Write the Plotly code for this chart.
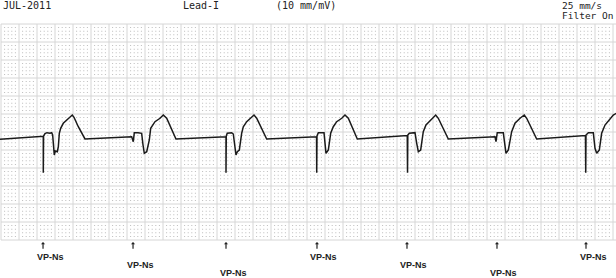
import plotly.graph_objects as go

# ---- ECG trace (time in s, amplitude in mV) ----
ecg_t = [-0.011, 0.470, 0.470, 0.473, 0.489, 0.511, 0.544, 0.563, 0.574, 0.581, 0.589, 0.592, 0.603, 0.626,
         0.637, 0.648, 0.663, 0.692, 0.730, 0.774, 0.792, 0.811, 0.859, 0.933,
         1.452, 1.470, 1.481, 1.522, 1.563, 1.578, 1.592, 1.619, 1.648, 1.663, 1.711, 1.767, 1.803, 1.841, 1.944,
         2.500, 2.500, 2.503, 2.514, 2.563, 2.581, 2.600, 2.611, 2.626, 2.648, 2.674, 2.692, 2.730, 2.767, 2.811,
         2.841, 2.952,
         3.506, 3.508, 3.511, 3.526, 3.589, 3.611, 3.637, 3.663, 3.692, 3.730, 3.786, 3.822, 3.859, 3.959,
         4.514, 4.517, 4.520, 4.537, 4.600, 4.619, 4.637, 4.663, 4.692, 4.722, 4.767, 4.803, 4.830, 4.859, 4.970,
         5.489, 5.500, 5.514, 5.581, 5.611, 5.637, 5.674, 5.711, 5.767, 5.814, 5.841, 5.952,
         6.494, 6.497, 6.500, 6.526, 6.581, 6.600, 6.619, 6.648, 6.674, 6.711, 6.748, 6.803, 6.844]
ecg_mv = [-0.203, -0.119, -1.131, -0.111, -0.047, -0.019, -0.036, -0.019, -0.083, -0.222, -0.547, -0.639, -0.528, -0.547,
          -0.408, -0.036, 0.103, 0.242, 0.333, 0.425, 0.472, 0.408, 0.147, -0.194,
          -0.131, -0.269, -0.019, -0.019, -0.036, -0.361, -0.592, -0.547, -0.222, 0.103, 0.286, 0.381, 0.472, 0.381, -0.194,
          -0.131, -1.131, -0.111, -0.036, -0.019, -0.056, -0.408, -0.639, -0.547, -0.500, -0.036, 0.147, 0.286, 0.381, 0.472,
          0.381, -0.194,
          -0.131, -1.131, -0.111, -0.019, -0.019, -0.592, -0.500, -0.036, 0.147, 0.286, 0.381, 0.472, 0.381, -0.194,
          -0.097, -1.131, -0.083, -0.036, -0.019, -0.314, -0.547, -0.500, 0.008, 0.194, 0.314, 0.408, 0.472, 0.381, -0.194,
          -0.131, -0.269, -0.019, -0.019, -0.592, -0.500, 0.008, 0.242, 0.381, 0.472, 0.381, -0.194,
          -0.097, -1.131, -0.083, -0.019, -0.019, -0.453, -0.592, -0.500, -0.036, 0.194, 0.314, 0.472, 0.528]

# ---- pacing markers ----
pace_t = [0.467, 1.467, 2.500, 3.511, 4.511, 5.511, 6.500]
pace_label = ["VP-Ns"] * 7
pace_row = [0, 1, 2, 0, 1, 2, 0]

# ---- header texts ----
header_texts = ["JUL-2011", "Lead-I", "(10 mm/mV)", "25 mm/s", "Filter On"]
header_px = [4, 184, 277, 563, 563]
header_py = [5, 5, 5, 5, 16]
header_size = [10, 10, 10, 9.5, 9.5]

# ---- paper grid definition ----
T_MIN, T_MAX = -1 / 90, 615 / 90          # x range (s)
V_MIN, V_MAX = -146 / 36, 132 / 36        # y range (mV)
GRID_T_END = 6.8
GRID_V = (-3.0, 3.0)

fig = go.Figure()

# dots at minor (1 mm) intersections
dot_x, dot_y = [], []
n_t = int(round(GRID_T_END / 0.04))
n_v = int(round((GRID_V[1] - GRID_V[0]) / 0.1))
for i in range(n_t + 1):
    if i % 5 == 0:
        continue
    for j in range(n_v + 1):
        if j % 5 == 0:
            continue
        dot_x.append(i * 0.04)
        dot_y.append(GRID_V[0] + j * 0.1)
fig.add_trace(go.Scatter(x=dot_x, y=dot_y, mode="markers",
                         marker=dict(symbol="square", size=1, color="#bdbdbd", line=dict(width=0)),
                         hoverinfo="skip"))

# major (5 mm) grid lines
gx, gy = [], []
for i in range(int(round(GRID_T_END / 0.2)) + 1):
    gx += [i * 0.2, i * 0.2, None]
    gy += [GRID_V[0], GRID_V[1], None]
for j in range(int(round((GRID_V[1] - GRID_V[0]) / 0.5)) + 1):
    gx += [0, T_MAX, None]
    gy += [GRID_V[0] + j * 0.5, GRID_V[0] + j * 0.5, None]
fig.add_trace(go.Scatter(x=gx, y=gy, mode="lines", line=dict(color="#d6d6d6", width=1),
                         hoverinfo="skip"))

# ECG trace
fig.add_trace(go.Scatter(x=ecg_t, y=ecg_mv, mode="lines",
                         line=dict(color="#1a1a1a", width=1.5), hoverinfo="skip"))

# pacing arrows and labels
for t, lab, row in zip(pace_t, pace_label, pace_row):
    fig.add_annotation(x=t, y=-3.06, xref="x", yref="y", text="", showarrow=True,
                       ax=0, ay=8, axref="pixel", ayref="pixel",
                       arrowhead=1, arrowsize=0.6, arrowwidth=1.2, arrowcolor="#222")
    fig.add_annotation(x=t, y=-3.47, xref="x", yref="y", text="<b>" + lab + "</b>", showarrow=False,
                       xanchor="center", yanchor="middle", xshift=7, yshift=-8 * row,
                       font=dict(family="Liberation Sans, Arial", size=9, color="#222"))

for txt, px, py, fs in zip(header_texts, header_px, header_py, header_size):
    fig.add_annotation(x=px / 616, y=1 - py / 278, xref="paper", yref="paper", text=txt, showarrow=False,
                       xanchor="left", yanchor="middle", align="left", xshift=-2, borderpad=0,
                       font=dict(family="DejaVu Sans Mono, monospace", size=fs, color="#222"))

fig.update_layout(width=616, height=278, margin=dict(l=0, r=0, t=0, b=0),
                  paper_bgcolor="white", plot_bgcolor="white", showlegend=False,
                  xaxis=dict(range=[T_MIN, T_MAX], visible=False, fixedrange=True),
                  yaxis=dict(range=[V_MIN, V_MAX], visible=False, fixedrange=True))

fig.write_html("out.html")
